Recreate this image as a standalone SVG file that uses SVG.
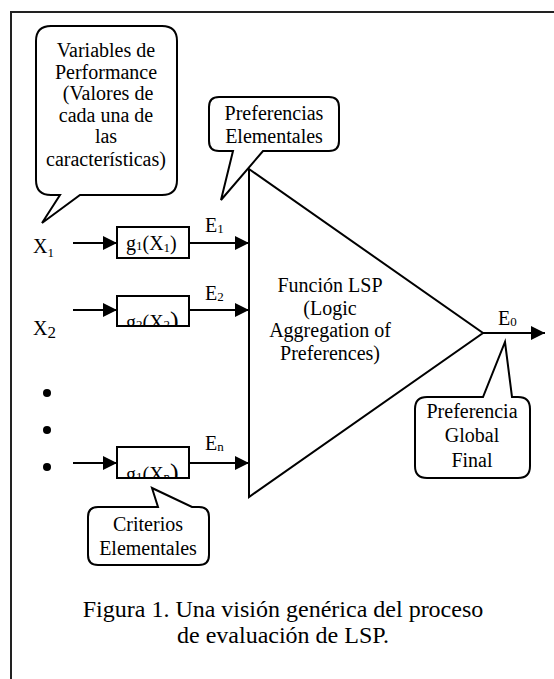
<svg xmlns="http://www.w3.org/2000/svg" width="554" height="679" viewBox="0 0 554 679">
<style>
text{font-family:"Liberation Serif","Times New Roman",serif;fill:#000}
.t{font-size:20px}
.c{font-size:20px;text-anchor:middle}
.sub{font-size:13px}
.ln{stroke:#000;stroke-width:2;fill:none}
.call{stroke:#000;stroke-width:2;fill:#fff}
.box{stroke:#000;stroke-width:2;fill:#fff}
</style>
<defs>
<marker id="ah" viewBox="0 0 10 10" refX="10" refY="5" markerWidth="7" markerHeight="7" markerUnits="strokeWidth" orient="auto">
<path d="M0 0 L10 5 L0 10 Z" fill="#000"/>
</marker>
<clipPath id="c2"><rect x="117" y="296" width="72" height="30"/></clipPath>
<clipPath id="cn"><rect x="117" y="447" width="72" height="31"/></clipPath>
</defs>
<path d="M11 679 V12 H554" stroke="#222" stroke-width="2" fill="none"/>
<g id="connectors">
<line class="ln" x1="73" y1="243" x2="117" y2="243" marker-end="url(#ah)"/>
<line class="ln" x1="189" y1="243" x2="249" y2="243" marker-end="url(#ah)"/>
<line class="ln" x1="73" y1="310" x2="117" y2="310" marker-end="url(#ah)"/>
<line class="ln" x1="189" y1="310" x2="249" y2="310" marker-end="url(#ah)"/>
<line class="ln" x1="73" y1="463" x2="117" y2="463" marker-end="url(#ah)"/>
<line class="ln" x1="189" y1="463" x2="249" y2="463" marker-end="url(#ah)"/>
<line class="ln" x1="483" y1="333" x2="545" y2="333" marker-end="url(#ah)"/>
</g>
<g id="inputs">
<text class="t" x="33" y="253">X<tspan class="sub" dy="4">1</tspan></text>
<text class="t" x="33" y="335">X<tspan font-size="17" dy="3">2</tspan></text>
<circle cx="47" cy="393" r="4"/>
<circle cx="47" cy="430" r="4"/>
<circle cx="47" cy="467" r="4"/>
</g>
<g id="g1">
<rect class="box" x="117" y="227" width="72" height="31"/>
<text class="t" x="126" y="250">g<tspan class="sub">1</tspan>(X<tspan class="sub" dy="2">1</tspan><tspan dy="-2">)</tspan></text>
</g>
<g id="g2">
<rect class="box" x="117" y="296" width="72" height="30"/>
<text class="t" x="126" y="329" clip-path="url(#c2)">g<tspan class="sub">2</tspan>(X<tspan class="sub">2</tspan><tspan font-size="26">)</tspan></text>
</g>
<g id="gn">
<rect class="box" x="117" y="447" width="72" height="31"/>
<text class="t" x="126" y="481" clip-path="url(#cn)">g<tspan class="sub">1</tspan>(X<tspan class="sub">n</tspan><tspan font-size="26">)</tspan></text>
</g>
<g id="labels">
<text class="t" x="205" y="232">E<tspan class="sub" dy="1">1</tspan></text>
<text class="t" x="205" y="300">E<tspan class="sub" dy="1">2</tspan></text>
<text class="t" x="205" y="450">E<tspan class="sub" dy="1">n</tspan></text>
<text class="t" x="498" y="325">E<tspan class="sub" dy="1">0</tspan></text>
</g>
<g id="lsp">
<polygon class="ln" points="249,169 483,333 249,497"/>
<text class="c" x="330" y="292">Función LSP</text>
<text class="c" x="330" y="315">(Logic</text>
<text class="c" x="330" y="337">Aggregation of</text>
<text class="c" x="330" y="360">Preferences)</text>
</g>
<g id="callout-variables">
<path class="call" d="M51 26 H162 Q177 26 177 41 V180 Q177 195 162 195 H80 L42 223 L60 195 H51 Q36 195 36 180 V41 Q36 26 51 26 Z"/>
<text class="c" x="106" y="57">Variables de</text>
<text class="c" x="106" y="79">Performance</text>
<text class="c" x="108" y="100">(Valores de</text>
<text class="c" x="106" y="122">cada una de</text>
<text class="c" x="106" y="143">las</text>
<text class="c" x="106" y="166">características)</text>
</g>
<g id="callout-pref-elem">
<path class="call" d="M219 97 H329 Q339 97 339 107 V141 Q339 151 329 151 H263 L221 200 L233 151 H219 Q209 151 209 141 V107 Q209 97 219 97 Z"/>
<text class="c" x="274" y="120">Preferencias</text>
<text class="c" x="274" y="143">Elementales</text>
</g>
<g id="callout-global">
<path class="call" d="M427 397 H483 L505 342 L512 397 H518 Q530 397 530 409 V466 Q530 478 518 478 H427 Q415 478 415 466 V409 Q415 397 427 397 Z"/>
<text class="c" x="472" y="418">Preferencia</text>
<text class="c" x="472" y="442">Global</text>
<text class="c" x="472" y="467">Final</text>
</g>
<g id="callout-criterios">
<path class="call" d="M98 507 H158 L152 488 L192 507 H199 Q209 507 209 517 V555 Q209 565 199 565 H98 Q88 565 88 555 V517 Q88 507 98 507 Z"/>
<text class="c" x="148" y="531">Criterios</text>
<text class="c" x="148" y="555">Elementales</text>
</g>
<g id="caption">
<text x="283" y="617" font-size="24" text-anchor="middle">Figura 1. Una visión genérica del proceso</text>
<text x="283" y="643" font-size="24" text-anchor="middle">de evaluación de LSP.</text>
</g>
</svg>
